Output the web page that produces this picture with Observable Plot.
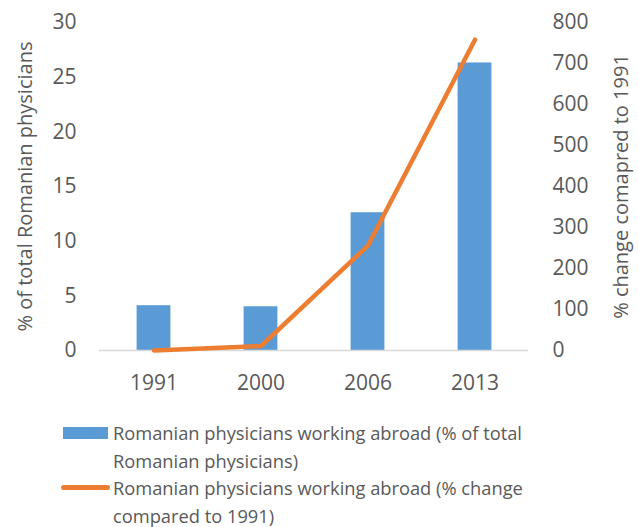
<!DOCTYPE html>
<html>
<head>
<meta charset="utf-8">
<script src="https://cdn.jsdelivr.net/npm/d3@7"></script>
<script src="https://cdn.jsdelivr.net/npm/@observablehq/plot@0.6"></script>
<style>
  html, body { margin: 0; padding: 0; background: #fff; }
  #wrap { position: relative; width: 638px; height: 527px; font-family: "Open Sans", sans-serif; color: #595959; }
  .legend { position: absolute; left: 0; top: 419px; width: 638px; font-size: 18.3px; line-height: 27.5px; }
  .item { position: relative; padding-left: 113px; }
  .sw { position: absolute; }
</style>
</head>
<body>
<div id="wrap"></div>
<script>
const years = ["1991", "2000", "2006", "2013"];
const shareAbroad = [4.1, 4.0, 12.6, 26.3];
const changeVs1991 = [0, 11, 256, 758];
const leftTicks = [0, 5, 10, 15, 20, 25, 30];
const rightTicks = [0, 100, 200, 300, 400, 500, 600, 700, 800];
const seriesNames = [
  "Romanian physicians working abroad (% of total Romanian physicians)",
  "Romanian physicians working abroad (% change compared to 1991)"
];
const leftTitle = "% of total Romanian physicians";
const rightTitle = "% change comapred to 1991";

const LEFT_MAX = 30, RIGHT_MAX = 800;
const toLeft = v => v * LEFT_MAX / RIGHT_MAX;

const bars = years.map((y, i) => ({year: y, value: shareAbroad[i]}));
const line = years.map((y, i) => ({year: y, value: toLeft(changeVs1991[i])}));

const chart = Plot.plot({
  width: 638,
  height: 400,
  marginLeft: 99,
  marginRight: 110,
  marginTop: 22,
  marginBottom: 50,
  style: {fontFamily: "Open Sans, sans-serif", fontSize: "21px", color: "#595959", background: "#fff"},
  x: {domain: years, padding: 0, type: "band"},
  y: {domain: [0, LEFT_MAX]},
  marks: [
    Plot.barY(bars, {x: "year", y: "value", fill: "#5B9BD5", insetLeft: 36.6, insetRight: 36.6}),
    Plot.ruleY([0], {stroke: "#D9D9D9", strokeWidth: 1.5}),
    Plot.line(line, {x: "year", y: "value", stroke: "#ED7D31", strokeWidth: 4.5, strokeLinecap: "round", strokeLinejoin: "round"}),
    Plot.axisX({tickSize: 0, tickPadding: 25, label: null, fill: "#595959"}),
    Plot.axisY(leftTicks, {anchor: "left", tickSize: 0, tickPadding: 23, label: null, fill: "#595959"}),
    Plot.axisY(rightTicks.map(toLeft), {anchor: "right", tickSize: 0, tickPadding: 24, tickFormat: (d, i) => String(rightTicks[i]), label: null, fill: "#595959"}),
    Plot.axisY({anchor: "left", ticks: [], tickSize: 0, label: leftTitle, labelAnchor: "center", labelArrow: "none", labelOffset: 82, fill: "#595959", fontSize: 20}),
    Plot.axisY({anchor: "right", ticks: [], tickSize: 0, label: rightTitle, labelAnchor: "center", labelArrow: "none", labelOffset: 99, fill: "#595959", fontSize: 20})
  ]
});

const wrap = document.getElementById("wrap");
wrap.appendChild(chart);

const legend = document.createElement("div");
legend.className = "legend";
const it1 = document.createElement("div");
it1.className = "item";
it1.innerHTML = `<span class="sw" style="left:63px;top:8px;width:45px;height:12px;background:#5B9BD5"></span>` + seriesNames[0].replace("(% of total ", "(% of total<br>");
const it2 = document.createElement("div");
it2.className = "item";
it2.innerHTML = `<span class="sw" style="left:61px;top:11px;width:49px;height:4.5px;border-radius:3px;background:#ED7D31"></span>` + seriesNames[1].replace("(% change ", "(% change<br>");
legend.appendChild(it1);
legend.appendChild(it2);
wrap.appendChild(legend);
</script>
</body>
</html>
